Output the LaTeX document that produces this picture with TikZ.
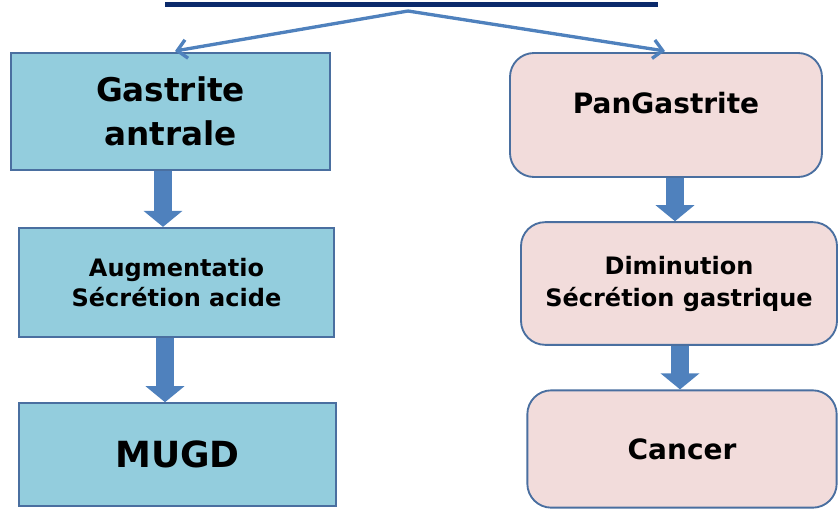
\documentclass[tikz,border=0pt]{standalone}
\usepackage{fontspec}
\setmainfont{DejaVu Sans}
\usepackage{tikz}
\usetikzlibrary{arrows.meta}
\definecolor{boxblue}{HTML}{93CDDD}
\definecolor{boxpink}{HTML}{F2DCDB}
\definecolor{edgeblue}{HTML}{4A6FA0}
\definecolor{arrowblue}{HTML}{4F81BD}
\definecolor{navy}{HTML}{0B2A6B}
\tikzset{
	bluebox/.style={draw=edgeblue,line width=1.4pt,fill=boxblue,align=center,font=\bfseries},
	pinkbox/.style={bluebox,fill=boxpink,rounded corners=18pt},
	bigarrow/.style={draw=arrowblue,line width=13.5pt,-{Triangle[width=28.5pt,length=12pt]}},
	thinarrow/.style={draw=arrowblue,line width=2.5pt,-{Straight Barb[length=7pt,width=14pt]}}
}
\begin{document}
\begin{tikzpicture}[x=0.75pt,y=-0.75pt]
	\useasboundingbox (0,0) rectangle (838,510);
	\draw[navy,line width=3.2pt] (165,4.5) -- (658,4.5);
	\coordinate (top) at (408,11);
	% left column
	\node[bluebox,minimum width=239pt,minimum height=88pt,font=\bfseries\fontsize{24.5}{33}\selectfont] (gastr) at (170.5,111.5) {Gastrite\\antrale};
	\node[bluebox,minimum width=236pt,minimum height=82pt,font=\bfseries\fontsize{18}{23}\selectfont] (augm) at (176.5,282.5) {Augmentatio\\Sécrétion acide};
	\node[bluebox,minimum width=238pt,minimum height=77pt,font=\bfseries\fontsize{27}{30}\selectfont] (mugd) at (177.5,454.5) {MUGD};
	% right column
	\node[pinkbox,minimum width=234pt,minimum height=93pt] (pang) at (666,115) {};
	\node[font=\bfseries\fontsize{21}{24}\selectfont] (pangtxt) at (666,103) {PanGastrite};
	\node[pinkbox,minimum width=237pt,minimum height=92pt,font=\bfseries\fontsize{18}{24}\selectfont] (dimin) at (679,283.5) {Diminution\\Sécrétion gastrique};
	\node[pinkbox,minimum width=232pt,minimum height=88pt,font=\bfseries\fontsize{21}{24}\selectfont] (canc) at (682,449) {Cancer};
	% arrows
	\draw[thinarrow] (top) -- (175,51);
	\draw[thinarrow] (top) -- (665,51);
	\draw[bigarrow] (163,0 |- gastr.south) -- (163,0 |- augm.north);
	\draw[bigarrow] (165,0 |- augm.south) -- (165,0 |- mugd.north);
	\draw[bigarrow] (675,0 |- pang.south) -- (675,0 |- dimin.north);
	\draw[bigarrow] (680,0 |- dimin.south) -- (680,0 |- canc.north);
\end{tikzpicture}
\end{document}
